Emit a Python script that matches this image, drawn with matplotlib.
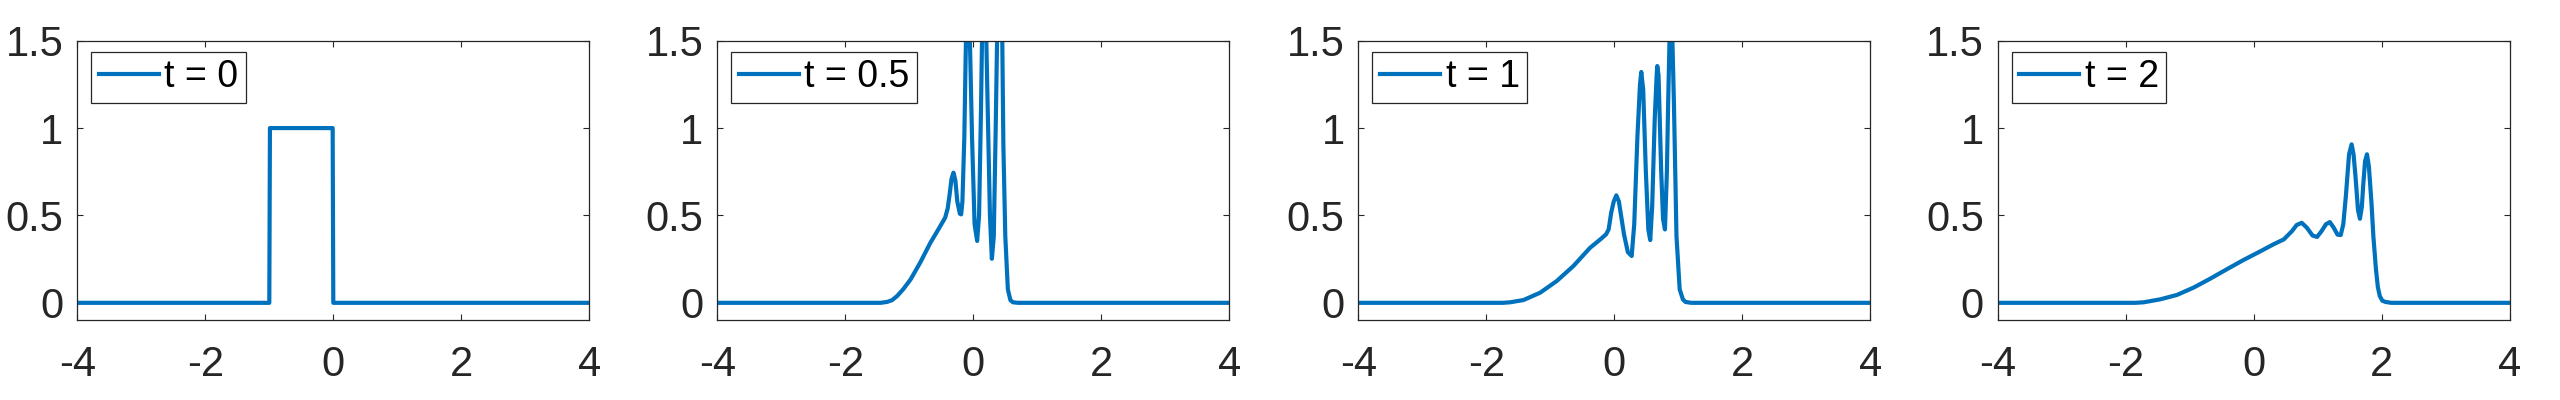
import numpy as np
import matplotlib
matplotlib.use("Agg")
import matplotlib.pyplot as plt

plt.rcParams.update({
    "font.family": ["Liberation Sans", "DejaVu Sans"],
    "axes.unicode_minus": False,
})

# values, one (x, u) pair per snapshot
x_t0 = [-4, -1.0, -0.99, -0.01, 0.0, 4]
u_t0 = [0, 0, 1, 1, 0, 0]

x_t05 = [-4, -1.45, -1.35, -1.27, -1.19, -1.09, -0.98, -0.83, -0.67, -0.54, -0.44,
         -0.40, -0.37, -0.34, -0.31, -0.28, -0.25, -0.21, -0.19, -0.17, -0.14, -0.12,
         -0.10, -0.08, -0.05, -0.02, 0.02, 0.06, 0.09, 0.12, 0.14, 0.16, 0.19, 0.22,
         0.26, 0.29, 0.32, 0.35, 0.38, 0.40, 0.42, 0.45, 0.47, 0.50, 0.54, 0.58, 0.62,
         0.70, 4]
u_t05 = [0, 0, 0.005, 0.015, 0.039, 0.08, 0.134, 0.23, 0.344, 0.424, 0.487,
         0.54, 0.62, 0.71, 0.745, 0.70, 0.58, 0.51, 0.506, 0.58, 0.95, 1.40,
         1.80, 1.75, 1.45, 0.95, 0.45, 0.354, 0.50, 1.10, 1.60, 1.90, 1.75, 1.20,
         0.50, 0.252, 0.38, 1.00, 1.70, 2.00, 2.00, 1.60, 0.90, 0.38, 0.077, 0.015, 0.003,
         0, 0]

x_t1 = [-4, -1.75, -1.63, -1.42, -1.16, -0.90, -0.64, -0.38, -0.22, -0.13, -0.09,
        -0.05, -0.01, 0.03, 0.07, 0.15, 0.21, 0.27, 0.31, 0.36, 0.40, 0.42, 0.45,
        0.49, 0.53, 0.56, 0.59, 0.63, 0.66, 0.67, 0.69, 0.73, 0.76, 0.79, 0.82, 0.84,
        0.87, 0.89, 0.93, 0.97, 1.02, 1.07, 1.11, 1.20, 4]
u_t1 = [0, 0, 0.003, 0.016, 0.058, 0.125, 0.211, 0.315, 0.363, 0.392, 0.42,
        0.516, 0.58, 0.615, 0.58, 0.392, 0.29, 0.268, 0.45, 0.955, 1.25, 1.321, 1.22,
        0.764, 0.42, 0.359, 0.55, 1.05, 1.30, 1.355, 1.30, 0.764, 0.48, 0.42, 0.75, 1.145,
        1.65, 1.75, 1.145, 0.382, 0.077, 0.02, 0.005, 0, 0]

x_t2 = [-4, -1.85, -1.72, -1.46, -1.20, -0.94, -0.68, -0.42, -0.16, 0.11, 0.31,
        0.47, 0.60, 0.67, 0.75, 0.83, 0.92, 0.99, 1.06, 1.13, 1.19, 1.25, 1.31, 1.36,
        1.40, 1.44, 1.49, 1.53, 1.56, 1.59, 1.63, 1.66, 1.69, 1.71, 1.74, 1.77, 1.80,
        1.84, 1.87, 1.91, 1.94, 1.97, 2.01, 2.06, 2.15, 4]
u_t2 = [0, 0, 0.003, 0.02, 0.045, 0.087, 0.138, 0.192, 0.245, 0.296, 0.335,
        0.363, 0.411, 0.445, 0.458, 0.43, 0.385, 0.377, 0.41, 0.45, 0.462, 0.43, 0.39, 0.388,
        0.45, 0.611, 0.85, 0.907, 0.85, 0.726, 0.53, 0.481, 0.55, 0.668, 0.81, 0.85, 0.78,
        0.573, 0.38, 0.192, 0.09, 0.039, 0.012, 0.005, 0, 0]

series = [(x_t0, u_t0, "t = 0"), (x_t05, u_t05, "t = 0.5"),
          (x_t1, u_t1, "t = 1"), (x_t2, u_t2, "t = 2")]

W, H = 2560, 400
fig = plt.figure(figsize=(W / 100, H / 100), dpi=100)
lefts = [77.3, 717.3, 1358.4, 1997.7]
axw, axh, axb = 512, 279.6, 400 - 320.3
ink = "#262626"

for left, (xs, us, lab) in zip(lefts, series):
    ax = fig.add_axes([left / W, axb / H, axw / W, axh / H])
    ax.plot(xs, us, color="#0072BD", lw=3.0, label=lab, solid_joinstyle="round")
    ax.set_xlim(-4, 4)
    ax.set_ylim(-0.1, 1.5)
    ax.set_xticks([-4, -2, 0, 2, 4])
    ax.set_yticks([0, 0.5, 1, 1.5])
    ax.set_yticklabels(["0", "0.5", "1", "1.5"])
    ax.tick_params(direction="in", top=True, right=True, length=4, width=0.8,
                   colors=ink, labelsize=30)
    ax.tick_params(axis="x", pad=18)
    ax.tick_params(axis="y", pad=10)
    for sp in ax.spines.values():
        sp.set_color(ink)
        sp.set_linewidth(0.9)
    leg = ax.legend(loc="upper left", bbox_to_anchor=(14 / axw, 1 - 11 / axh),
                    borderaxespad=0, fontsize=27, fancybox=False, framealpha=1,
                    edgecolor=ink, handlelength=1.6, handletextpad=0.15,
                    borderpad=0.2)
    leg.get_frame().set_linewidth(0.9)
    for txt in leg.get_texts():
        txt.set_color("black")

fig.savefig("out.png", dpi=100)
